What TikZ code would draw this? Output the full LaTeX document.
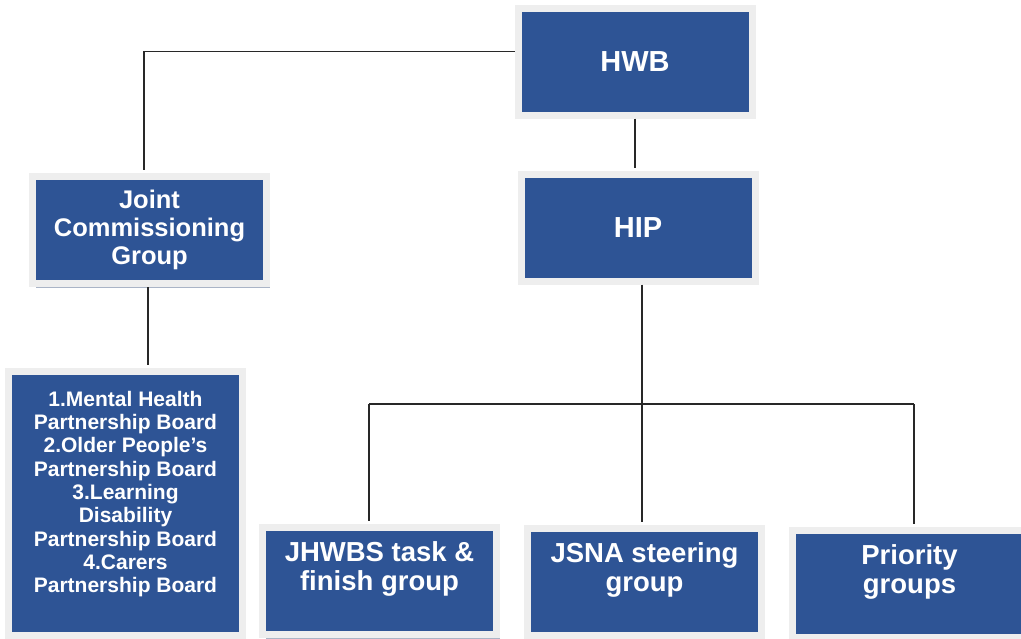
\documentclass[tikz,border=0pt]{standalone}
\usepackage{fontspec}
\setmainfont{Liberation Sans}
\usetikzlibrary{positioning,shadows}
\definecolor{hwbblue}{RGB}{46,84,149}
\definecolor{rimgray}{RGB}{238,238,238}
\definecolor{shadowgray}{RGB}{170,180,198}
\definecolor{linegray}{RGB}{40,40,40}

\begin{document}
\begin{tikzpicture}[x=1pt,y=-1pt,
    box/.style={rectangle,fill=hwbblue,draw=rimgray,line width=7pt,text=white,align=center,
        font=\bfseries,minimum width=234pt,minimum height=107pt,inner sep=0pt,
        drop shadow={shadow xshift=3pt,shadow yshift=-4pt,fill=shadowgray,opacity=1}},
    big/.style={font=\bfseries\fontsize{29}{33}\selectfont},
    mid/.style={font=\bfseries\fontsize{25.5}{28}\selectfont},
    low/.style={font=\bfseries\fontsize{27.5}{29}\selectfont},
    list/.style={font=\bfseries\fontsize{21}{23.3}\selectfont},
    link/.style={draw=linegray,line width=1.4pt,shorten >=3pt}
]
\useasboundingbox (0,0) rectangle (1021,638);
\fill[white] (0,0) rectangle (1021,638);

\node[box,big] (hwb) at (635,61.5) {HWB};
\node[box,big] (hip) at (638,227.5) {HIP};
\node[box,mid] (jcg) at (149.5,230) {Joint\\Commissioning\\Group};
\node[box,list,minimum height=264pt] (boards) at (125.5,503.5)
    {1.Mental Health\\Partnership Board\\2.Older People's\\Partnership Board\\3.Learning\\Disability\\Partnership Board\\4.Carers\\Partnership Board\\\mbox{}};
\node[box,low] (jhwbs) at (379.5,581) {JHWBS task \&\\finish group\\\mbox{}};
\node[box,low] (jsna) at (644.5,582) {JSNA steering\\group\\\mbox{}};
\node[box,low] (prio) at (909.5,583.5) {Priority\\groups\\\mbox{}};

% connectors
\draw[link] ([yshift=10pt]hwb.west) -| ([xshift=-5.5pt]jcg.north);
\draw[link] (hwb.south) -- (hwb.south |- hip.north);
\draw[link] ([xshift=-1.5pt]jcg.south) -- ([xshift=-1.5pt]jcg.south |- boards.north);
\draw[link] ([xshift=4pt]hip.south) -- ([xshift=4pt]hip.south |- jsna.north);
\coordinate (busL) at (369,404);
\coordinate (busR) at (914,404);
\draw[link,shorten >=0pt] (busL) -- (busR);
\draw[link] (busL) -- (busL |- jhwbs.north);
\draw[link] (busR) -- (busR |- prio.north);
\end{tikzpicture}
\end{document}
